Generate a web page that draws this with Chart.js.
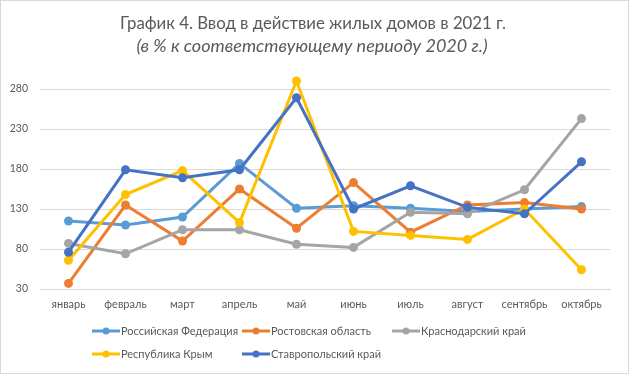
<!DOCTYPE html>
<html>
<head>
<meta charset="utf-8">
<script src="https://cdn.jsdelivr.net/npm/chart.js@4/dist/chart.umd.min.js"></script>
<style>
  html, body { margin: 0; padding: 0; background: #fff; }
  #wrap { width: 629px; height: 374px; position: relative; }
</style>
</head>
<body>
<div id="wrap"><canvas id="chart" width="629" height="374"></canvas></div>
<script>
// Ввод в действие жилых домов, % к соответствующему периоду 2020 г.
const months = ['январь', 'февраль', 'март', 'апрель', 'май', 'июнь', 'июль', 'август', 'сентябрь', 'октябрь'];
const yTicks = [30, 80, 130, 180, 230, 280];

const russia      = [115, 110, 120, 187, 131, 134, 131, 127, 130, 133];
const rostov      = [37, 135, 90, 155, 106, 163, 101, 135, 138, 130];
const krasnodar   = [87, 74, 104, 104, 86, 82, 126, 124, 154, 243];
const crimea      = [66, 148, 178, 113, 290, 102, 97, 92, 130, 54];
const stavropol   = [76, 179, 169, 179, 269, 130, 159, 132, 124, 189];

const seriesNames = ['Российская Федерация', 'Ростовская область', 'Краснодарский край', 'Республика Крым', 'Ставропольский край'];
const seriesColors = ['#5b9bd5', '#ed7d31', '#a5a5a5', '#ffc000', '#4472c4'];

const titleText = 'График 4. Ввод в действие жилых домов в 2021 г.';
const subtitleText = '(в % к соответствующему периоду 2020 г.)';

const FONT = "Lato, 'Open Sans', sans-serif";
const TEXT = '#595959';
const GRID = '#d9d9d9';

function line(label, data, i) {
    return {
        label,
        data,
        borderColor: seriesColors[i],
        backgroundColor: seriesColors[i],
        borderWidth: 3,
        pointRadius: 4.5,
        pointHoverRadius: 4.5,
        pointBorderWidth: 0,
        tension: 0,
        order: 5 - i   // later series drawn on top, like Excel
    };
}

// white background, thin frame, title + subtitle
const framePlugin = {
    id: 'frame',
    beforeDraw(chart) {
        const ctx = chart.ctx;
        ctx.save();
        ctx.fillStyle = '#fff';
        ctx.fillRect(0, 0, chart.width, chart.height);
        ctx.strokeStyle = GRID;
        ctx.lineWidth = 1;
        ctx.strokeRect(0.5, 0.5, chart.width - 1, chart.height - 1);

        ctx.fillStyle = TEXT;
        ctx.textAlign = 'center';
        ctx.textBaseline = 'alphabetic';
        ctx.font = '16.8px ' + FONT;
        ctx.fillText(titleText, 313, 29);
        ctx.font = 'italic 18px ' + FONT;
        ctx.fillText(subtitleText, 312, 52);
        ctx.restore();
    }
};

// Excel-style legend: fixed columns, two rows
const legendPlugin = {
    id: 'xlLegend',
    afterDraw(chart) {
        const ctx = chart.ctx;
        const cols = [92, 242, 392];
        const rows = [331, 354];
        ctx.save();
        ctx.font = '11px ' + FONT;
        ctx.textBaseline = 'middle';
        ctx.textAlign = 'left';
        chart.data.datasets.forEach((ds, i) => {
            const x = cols[i % 3];
            const y = rows[Math.floor(i / 3)];
            ctx.strokeStyle = ds.borderColor;
            ctx.lineWidth = 3;
            ctx.beginPath();
            ctx.moveTo(x, y);
            ctx.lineTo(x + 28, y);
            ctx.stroke();
            ctx.fillStyle = ds.borderColor;
            ctx.beginPath();
            ctx.arc(x + 14, y, 3.5, 0, Math.PI * 2);
            ctx.fill();
            ctx.fillStyle = TEXT;
            ctx.fillText(ds.label, x + 29, y + 0.5);
        });
        ctx.restore();
    }
};

new Chart(document.getElementById('chart'), {
    type: 'line',
    data: {
        labels: months,
        datasets: [
            line(seriesNames[0], russia, 0),
            line(seriesNames[1], rostov, 1),
            line(seriesNames[2], krasnodar, 2),
            line(seriesNames[3], crimea, 3),
            line(seriesNames[4], stavropol, 4)
        ]
    },
    options: {
        responsive: false,
        animation: false,
        events: [],
        layout: { padding: { left: 0, right: 19, top: 70, bottom: 52 } },
        plugins: {
            legend: { display: false },
            tooltip: { enabled: false },
            title: { display: false }
        },
        scales: {
            x: {
                offset: true,
                grid: { display: false, drawTicks: false },
                border: { color: GRID },
                ticks: { color: TEXT, font: { family: FONT, size: 11 }, padding: 9, maxRotation: 0, autoSkip: false },
                afterFit: (s) => { s.height = 33; }
            },
            y: {
                min: 30,
                max: 303.75,
                afterBuildTicks: (s) => { s.ticks = yTicks.map((v) => ({ value: v })); },
                grid: { color: GRID, drawTicks: false },
                border: { display: false },
                ticks: { color: TEXT, font: { family: FONT, size: 10.5 }, padding: 12 },
                afterFit: (s) => { s.width = 40; }
            }
        }
    },
    plugins: [framePlugin, legendPlugin]
});
</script>
</body>
</html>
